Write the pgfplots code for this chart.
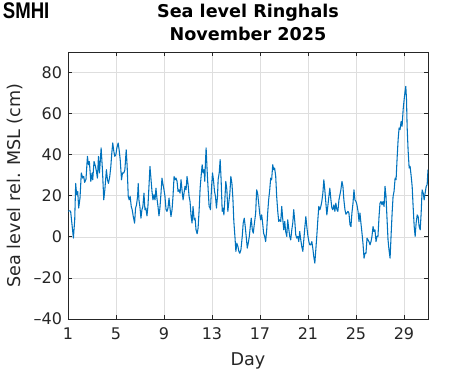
\documentclass[border=0pt]{standalone}
\usepackage{pgfplots}
\pgfplotsset{compat=1.18}
\usepackage{fontspec}
\setmainfont{DejaVu Sans}
\definecolor{mblue}{RGB}{0,114,189}
\definecolor{axgray}{RGB}{38,38,38}
\pgfplotstableread{
day val
1.00 12.5
1.14 12.7
1.22 12.4
1.45 -0.6
1.56 8.3
1.64 26.0
1.72 20.5
1.81 22.1
1.89 14.0
2.00 18.9
2.11 31.1
2.23 28.6
2.31 29.4
2.39 26.5
2.50 28.1
2.62 39.2
2.70 35.1
2.78 36.7
2.90 27.0
3.01 31.1
3.06 27.8
3.17 36.7
3.29 34.3
3.37 31.9
3.45 28.6
3.54 39.2
3.62 31.1
3.68 35.9
3.76 43.3
3.87 32.7
3.98 18.0
4.07 22.9
4.20 32.7
4.29 27.8
4.37 26.0
4.48 29.4
4.57 34.3
4.65 40.8
4.73 45.7
4.82 41.6
4.90 39.2
4.99 40.0
5.07 43.3
5.18 45.7
5.26 42.4
5.35 37.6
5.46 27.8
5.54 31.1
5.65 31.1
5.74 32.7
5.85 42.4
5.93 34.3
6.02 19.7
6.10 18.0
6.18 19.7
6.27 14.8
6.35 13.2
6.44 9.9
6.55 6.7
6.63 14.0
6.71 15.6
6.80 19.7
6.85 26.0
6.91 18.0
6.99 14.8
7.08 9.1
7.16 13.2
7.24 14.8
7.33 21.3
7.41 13.2
7.49 14.0
7.58 10.2
7.66 14.8
7.74 23.7
7.83 34.3
7.91 28.6
8.00 22.1
8.08 18.0
8.16 20.5
8.25 18.0
8.33 23.7
8.41 18.9
8.50 14.8
8.58 10.2
8.66 14.0
8.75 21.3
8.83 28.6
8.92 25.4
9.00 22.9
9.08 19.7
9.17 13.2
9.25 12.4
9.33 14.0
9.42 18.9
9.50 14.0
9.58 9.9
9.67 13.2
9.75 19.7
9.84 29.4
9.92 27.8
10.00 28.6
10.09 27.0
10.17 22.1
10.25 22.9
10.34 21.3
10.42 27.8
10.50 22.9
10.59 18.0
10.67 21.3
10.75 24.6
10.84 22.9
10.92 29.4
11.01 25.4
11.09 19.7
11.17 17.2
11.26 9.9
11.34 6.7
11.42 14.8
11.51 8.3
11.59 9.1
11.67 3.4
11.76 1.5
11.84 4.2
11.93 13.2
12.01 23.7
12.09 29.4
12.18 35.1
12.26 31.1
12.34 32.7
12.40 27.0
12.45 35.9
12.51 43.3
12.59 32.7
12.68 22.9
12.76 14.8
12.84 14.0
12.87 13.2
12.96 23.7
13.04 31.1
13.12 27.8
13.21 22.1
13.29 19.7
13.37 14.0
13.46 19.7
13.51 27.8
13.60 31.1
13.68 37.6
13.76 27.8
13.85 12.4
13.93 14.0
13.99 10.7
14.07 18.0
14.15 27.0
14.24 22.9
14.32 12.4
14.41 17.2
14.49 21.3
14.57 29.4
14.66 26.0
14.74 18.9
14.82 7.5
14.91 0.2
14.99 -7.1
15.07 -3.1
15.16 -4.7
15.24 -7.1
15.32 -8.0
15.41 -6.3
15.52 0.2
15.60 6.7
15.69 9.1
15.77 5.0
15.85 0.2
15.94 -5.5
16.02 -3.1
16.11 0.2
16.19 5.0
16.27 9.1
16.36 3.4
16.44 1.8
16.52 5.9
16.64 11.6
16.72 22.9
16.80 21.3
16.89 16.4
16.97 11.6
17.05 8.3
17.14 10.7
17.22 6.7
17.30 1.8
17.39 0.2
17.47 -2.3
17.56 3.4
17.64 11.6
17.72 18.0
17.81 22.9
17.89 28.6
17.97 27.8
18.06 35.1
18.14 32.7
18.22 33.5
18.31 29.4
18.39 19.7
18.48 12.4
18.56 7.5
18.64 8.3
18.73 7.5
18.81 14.8
18.89 9.1
18.98 3.4
19.06 7.5
19.14 2.6
19.23 0.2
19.31 8.3
19.39 4.2
19.48 0.2
19.56 -1.5
19.65 3.4
19.73 6.7
19.81 13.2
19.90 7.5
19.98 1.0
20.06 -0.6
20.15 0.2
20.23 -2.3
20.31 2.6
20.40 -1.5
20.48 -4.7
20.57 -7.1
20.65 -1.5
20.73 4.2
20.82 9.9
20.90 5.0
20.98 1.0
21.07 -2.3
21.15 -3.9
21.23 -3.9
21.32 -2.3
21.40 -5.5
21.48 -9.6
21.57 -12.8
21.65 -6.3
21.74 1.0
21.82 8.3
21.90 14.8
21.99 13.2
22.07 14.8
22.15 17.2
22.24 21.3
22.32 27.8
22.40 22.9
22.49 16.4
22.57 10.7
22.65 14.8
22.74 19.7
22.82 23.7
22.91 18.0
22.99 14.0
23.07 13.2
23.16 15.6
23.24 12.4
23.32 16.4
23.41 13.2
23.49 12.4
23.58 18.0
23.66 20.5
23.74 22.9
23.83 27.0
23.91 24.6
23.99 18.0
24.08 13.2
24.16 11.0
24.24 11.6
24.33 12.4
24.41 11.6
24.50 5.9
24.58 5.0
24.66 11.6
24.75 16.4
24.83 22.9
24.91 18.0
25.00 17.2
25.08 15.6
25.17 12.4
25.25 7.5
25.33 11.6
25.41 6.7
25.50 1.8
25.58 -3.1
25.67 -10.4
25.75 -8.0
25.83 -8.0
25.92 -0.6
26.00 -1.5
26.08 -2.3
26.17 -3.9
26.25 -2.3
26.33 0.2
26.42 5.0
26.50 2.6
26.58 3.4
26.67 -2.3
26.75 0.2
26.83 0.2
26.92 9.9
27.00 16.4
27.08 17.2
27.17 15.6
27.25 17.2
27.34 14.8
27.42 24.6
27.50 19.7
27.59 8.3
27.67 -1.5
27.75 -6.3
27.84 -10.4
27.92 0.2
28.01 11.6
28.09 19.7
28.17 22.1
28.26 28.6
28.34 27.8
28.42 37.6
28.51 47.3
28.59 53.0
28.67 52.2
28.76 56.2
28.84 53.8
28.93 62.0
29.01 66.8
29.09 70.9
29.15 73.3
29.21 66.8
29.26 53.8
29.34 42.4
29.43 33.5
29.51 34.3
29.60 29.4
29.68 24.6
29.76 14.8
29.85 5.0
29.93 0.2
30.01 6.7
30.10 10.7
30.18 9.9
30.26 5.0
30.35 3.4
30.43 11.6
30.51 22.9
30.60 21.3
30.68 18.0
30.76 21.3
30.85 24.6
30.93 25.4
31.00 32.7
}\sealevel
\begin{document}
\begin{tikzpicture}
\path[use as bounding box] (-51pt,-39pt) rectangle (302.25pt,239.25pt);
\node[anchor=north west, inner sep=0pt, font=\fontspec{Liberation Sans}\bfseries\fontsize{17}{17}\selectfont] at (-49pt,237.5pt) {\scalebox{0.82}[1]{SMHI}};
\begin{axis}[
  at={(0pt,0pt)}, anchor=south west, scale only axis,
  width=270pt, height=200.25pt,
  xmin=1, xmax=31, ymin=-40, ymax=90,
  xtick={1,5,9,13,17,21,25,29},
  ytick={-40,-20,0,20,40,60,80},
  yticklabels={–40,–20,0,20,40,60,80},
  grid=major,
  major grid style={draw=black!13, line width=0.45pt},
  axis line style={draw=axgray, line width=0.55pt},
  tick style={draw=axgray, line width=0.55pt},
  tick align=inside, major tick length=2.8pt,
  /pgf/number format/assume math mode=true,
  tick label style={font=\fontsize{12}{12}\selectfont, text=axgray},
  yticklabel style={xshift=-1pt},
  xticklabel style={yshift=-3pt},
  xlabel={Day}, ylabel={Sea level rel. MSL (cm)},
  label style={font=\fontsize{13.2}{13.2}\selectfont, text=axgray},
  xlabel style={yshift=-3pt},
  ylabel style={yshift=1pt},
  title={Sea level Ringhals\\November 2025},
  title style={align=center, font=\bfseries\fontsize{13.2}{17.25}\selectfont, text=black, yshift=-1pt},
]
\addplot[mblue, line width=0.8pt, line join=round] table[x=day, y=val] {\sealevel};
\end{axis}
\end{tikzpicture}
\end{document}
